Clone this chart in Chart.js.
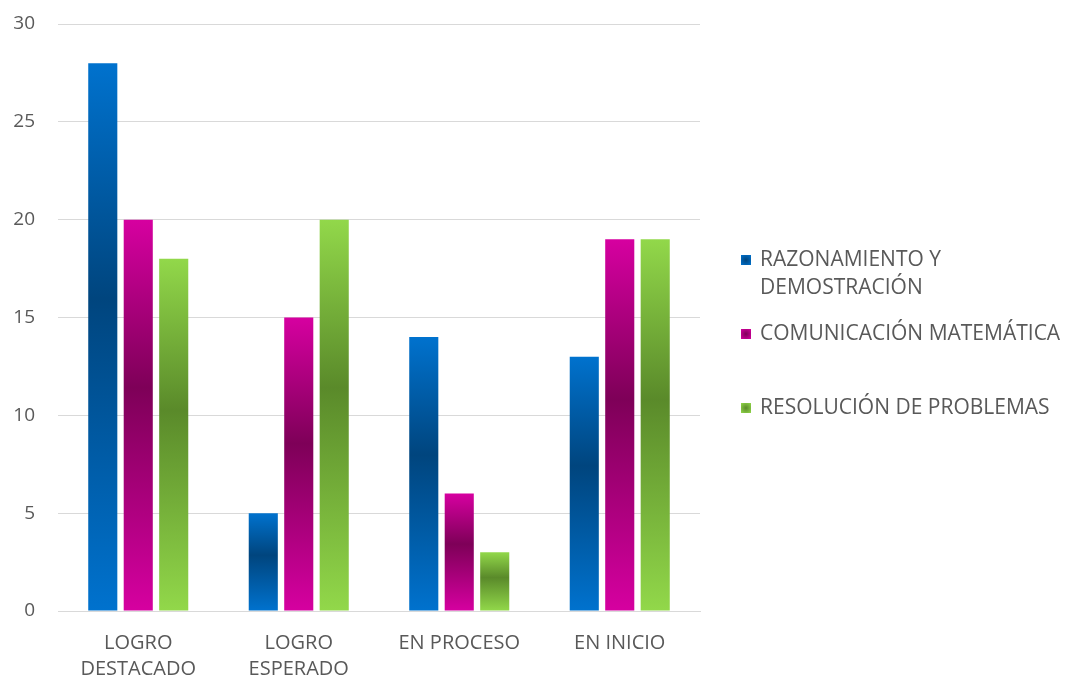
<!DOCTYPE html>
<html>
<head>
<meta charset="utf-8">
<script src="https://cdn.jsdelivr.net/npm/chart.js@4/dist/chart.umd.min.js"></script>
<style>
html,body{margin:0;padding:0;background:#fff;}
#wrap{width:1067px;height:681px;}
</style>
</head>
<body>
<div id="wrap"><canvas id="c" width="1067" height="681"></canvas></div>
<script>
const categories = [["LOGRO","DESTACADO"],["LOGRO","ESPERADO"],"EN PROCESO","EN INICIO"];
const seriesNames = ["RAZONAMIENTO Y DEMOSTRACIÓN","COMUNICACIÓN MATEMÁTICA","RESOLUCIÓN DE PROBLEMAS"];
const razonamiento = [28, 5, 14, 13];
const comunicacion = [20, 15, 6, 19];
const resolucion = [18, 20, 3, 19];
const yTicks = [0, 5, 10, 15, 20, 25, 30];

const lightColors = ["#0072CE", "#D600A0", "#92D84A"];
const darkColors  = ["#00457E", "#7E0058", "#5A8A2A"];
const FONT = "'Open Sans', Lato, sans-serif";
const TEXT = "#595959";

function barGradient(i){
  return function(ctx){
    const chart = ctx.chart;
    const ca = chart.chartArea;
    if (!ca || ctx.type !== 'data') return lightColors[i];
    const ys = chart.scales.y;
    const top = ys.getPixelForValue(ctx.raw);
    const bot = ys.getPixelForValue(0);
    const g = chart.ctx.createLinearGradient(0, top, 0, bot);
    g.addColorStop(0, lightColors[i]);
    g.addColorStop(0.43, darkColors[i]);
    g.addColorStop(1, lightColors[i]);
    return g;
  };
}

const legendPlugin = {
  id: 'sideLegend',
  afterDraw(chart){
    const c = chart.ctx;
    c.save();
    c.font = "21px " + FONT;
    c.fillStyle = TEXT;
    c.textBaseline = 'middle';
    c.textAlign = 'left';
    const x0 = 741, tx = 760, maxW = 310;
    chart.data.datasets.forEach((ds, i) => {
      const y = 260 + 74 * i;
      const g = c.createRadialGradient(x0 + 5, y, 0, x0 + 5, y, 7);
      g.addColorStop(0, darkColors[i]);
      g.addColorStop(1, lightColors[i]);
      c.fillStyle = g;
      c.fillRect(x0, y - 5, 10, 10);
      c.fillStyle = TEXT;
      const words = ds.label.split(' ');
      const lines = [];
      let cur = '';
      words.forEach(w => {
        const t = cur ? cur + ' ' + w : w;
        if (c.measureText(t).width > maxW && cur) { lines.push(cur); cur = w; }
        else cur = t;
      });
      if (cur) lines.push(cur);
      lines.forEach((ln, k) => c.fillText(ln, tx, y + 28 * k));
    });
    c.restore();
  }
};

new Chart(document.getElementById('c'), {
  type: 'bar',
  data: {
    labels: categories,
    datasets: [
      { label: seriesNames[0], data: razonamiento, backgroundColor: barGradient(0) },
      { label: seriesNames[1], data: comunicacion, backgroundColor: barGradient(1) },
      { label: seriesNames[2], data: resolucion, backgroundColor: barGradient(2) }
    ]
  },
  options: {
    responsive: false,
    animation: false,
    layout: { padding: { top: 24, right: 367, bottom: 0, left: 0 } },
    datasets: { bar: { categoryPercentage: 0.663, barPercentage: 0.82 } },
    plugins: { legend: { display: false }, tooltip: { enabled: false } },
    scales: {
      x: {
        grid: { display: false, drawTicks: false },
        border: { display: true, color: '#d9d9d9', width: 1 },
        ticks: { color: TEXT, font: { family: FONT, size: 20, lineHeight: 1.3 }, padding: 19, maxRotation: 0, autoSkip: false },
        afterFit(s){ s.height = 70; s.paddingLeft = 0; s.paddingRight = 0; }
      },
      y: {
        min: 0, max: 30,
        afterBuildTicks(s){ s.ticks = yTicks.map(v => ({ value: v })); },
        grid: { color: '#d9d9d9', drawTicks: false },
        border: { display: false },
        ticks: { color: TEXT, font: { family: FONT, size: 19 }, padding: 23 },
        afterFit(s){ s.width = 58; s.paddingTop = 0; s.paddingBottom = 0; }
      }
    }
  },
  plugins: [legendPlugin]
});
</script>
</body>
</html>
